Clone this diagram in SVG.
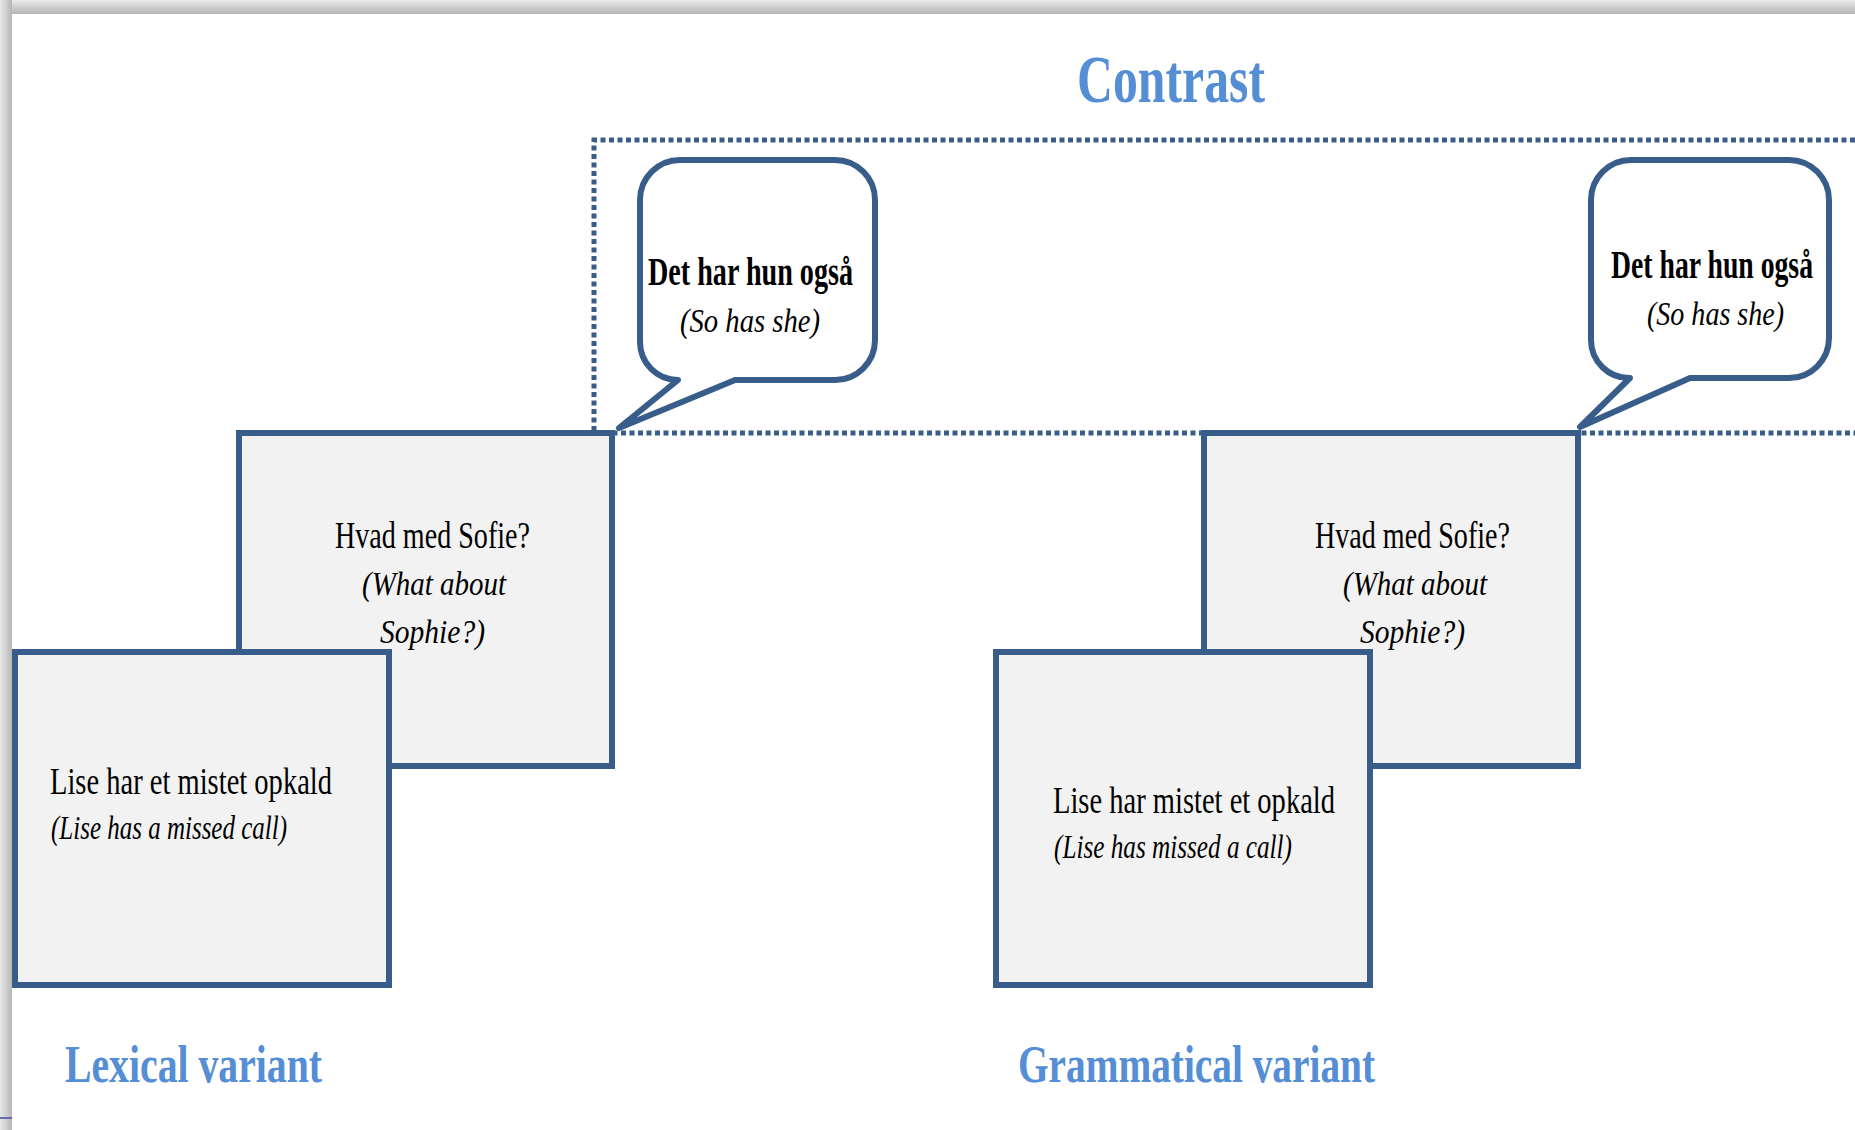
<svg xmlns="http://www.w3.org/2000/svg" width="1855" height="1130" viewBox="0 0 1855 1130">
<defs>
<linearGradient id="gTop" x1="0" y1="0" x2="0" y2="1">
<stop offset="0" stop-color="#ececec"/>
<stop offset="0.45" stop-color="#d2d2d2"/>
<stop offset="1" stop-color="#b3b3b3"/>
</linearGradient>
<linearGradient id="gLeft" x1="0" y1="0" x2="1" y2="0">
<stop offset="0" stop-color="#e6e6e6"/>
<stop offset="0.45" stop-color="#d3d3d3"/>
<stop offset="1" stop-color="#b6b6b6"/>
</linearGradient>
</defs>
<style>
.box{fill:#f2f2f2;stroke:#385d8a;stroke-width:6;}
.bubble{fill:#ffffff;stroke:#385d8a;stroke-width:6;stroke-linejoin:round;}
.dots{fill:none;stroke:#385d8a;stroke-width:5;stroke-dasharray:5 3.5;}
.t{font-family:"Liberation Serif","Times New Roman",serif;fill:#000;}
.b{font-weight:bold;font-size:40px;}
.r{font-size:37px;}
.i{font-style:italic;font-size:33px;}
.h{font-family:"Liberation Serif","Times New Roman",serif;font-weight:bold;fill:#558ed5;}
</style>
<rect x="0" y="0" width="1855" height="1130" fill="#ffffff"/>
<rect x="0" y="0" width="1855" height="14" fill="url(#gTop)"/>
<rect x="0" y="0" width="12" height="1130" fill="url(#gLeft)"/>
<line x1="0" y1="1118" x2="12" y2="1118" stroke="#3b4fa0" stroke-width="1.5"/>

<g id="contrast-frame">
<path class="dots" d="M1855 140 L594 140 L594 433 L1855 433"/>
</g>

<text class="h" x="1077" y="102" font-size="68" textLength="188" lengthAdjust="spacingAndGlyphs">Contrast</text>

<g id="lex-question">
<rect class="box" x="239" y="433" width="373" height="333"/>
<text class="t r" x="335" y="548" textLength="195" lengthAdjust="spacingAndGlyphs">Hvad med Sofie?</text>
<text class="t i" x="362" y="595" textLength="144" lengthAdjust="spacingAndGlyphs">(What about</text>
<text class="t i" x="380" y="643" textLength="105" lengthAdjust="spacingAndGlyphs">Sophie?)</text>
</g>
<g id="lex-statement">
<rect class="box" x="15" y="652" width="374" height="333"/>
<text class="t r" x="50" y="794" textLength="282" lengthAdjust="spacingAndGlyphs">Lise har et mistet opkald</text>
<text class="t i" x="51" y="839" textLength="236" lengthAdjust="spacingAndGlyphs">(Lise has a missed call)</text>
</g>
<g id="gram-question">
<rect class="box" x="1204" y="433" width="374" height="333"/>
<text class="t r" x="1315" y="548" textLength="195" lengthAdjust="spacingAndGlyphs">Hvad med Sofie?</text>
<text class="t i" x="1343" y="595" textLength="144" lengthAdjust="spacingAndGlyphs">(What about</text>
<text class="t i" x="1360" y="643" textLength="105" lengthAdjust="spacingAndGlyphs">Sophie?)</text>
</g>
<g id="gram-statement">
<rect class="box" x="996" y="652" width="374" height="333"/>
<text class="t r" x="1053" y="813" textLength="282" lengthAdjust="spacingAndGlyphs">Lise har mistet et opkald</text>
<text class="t i" x="1054" y="858" textLength="238" lengthAdjust="spacingAndGlyphs">(Lise has missed a call)</text>
</g>

<g id="connectors">
<g id="lex-bubble">
<path class="bubble" d="M678 380 L619 428 L735 380 L835 380 A40 40 0 0 0 875 340 L875 200 A40 40 0 0 0 835 160 L680 160 A40 40 0 0 0 640 200 L640 342 A38 38 0 0 0 678 380 Z"/>
<text class="t b" x="648" y="285" textLength="205" lengthAdjust="spacingAndGlyphs">Det har hun også</text>
<text class="t i" x="680" y="332" font-size="30" textLength="140" lengthAdjust="spacingAndGlyphs">(So has she)</text>
</g>
<g id="gram-bubble">
<path class="bubble" d="M1630 378 L1580 427 L1690 378 L1789 378 A40 40 0 0 0 1829 338 L1829 200 A40 40 0 0 0 1789 160 L1631 160 A40 40 0 0 0 1591 200 L1591 340 A38 38 0 0 0 1630 378 Z"/>
<text class="t b" transform="translate(1611 278) scale(0.69 1)" x="0" y="0" textLength="292.75" lengthAdjust="spacingAndGlyphs">Det har hun også</text>
<text class="t i" x="1647" y="325" font-size="30" textLength="137" lengthAdjust="spacingAndGlyphs">(So has she)</text>
</g>
</g>

<text class="h" x="65" y="1082" font-size="52" textLength="257" lengthAdjust="spacingAndGlyphs">Lexical variant</text>
<text class="h" x="1018" y="1082" font-size="52" textLength="357" lengthAdjust="spacingAndGlyphs">Grammatical variant</text>
</svg>
